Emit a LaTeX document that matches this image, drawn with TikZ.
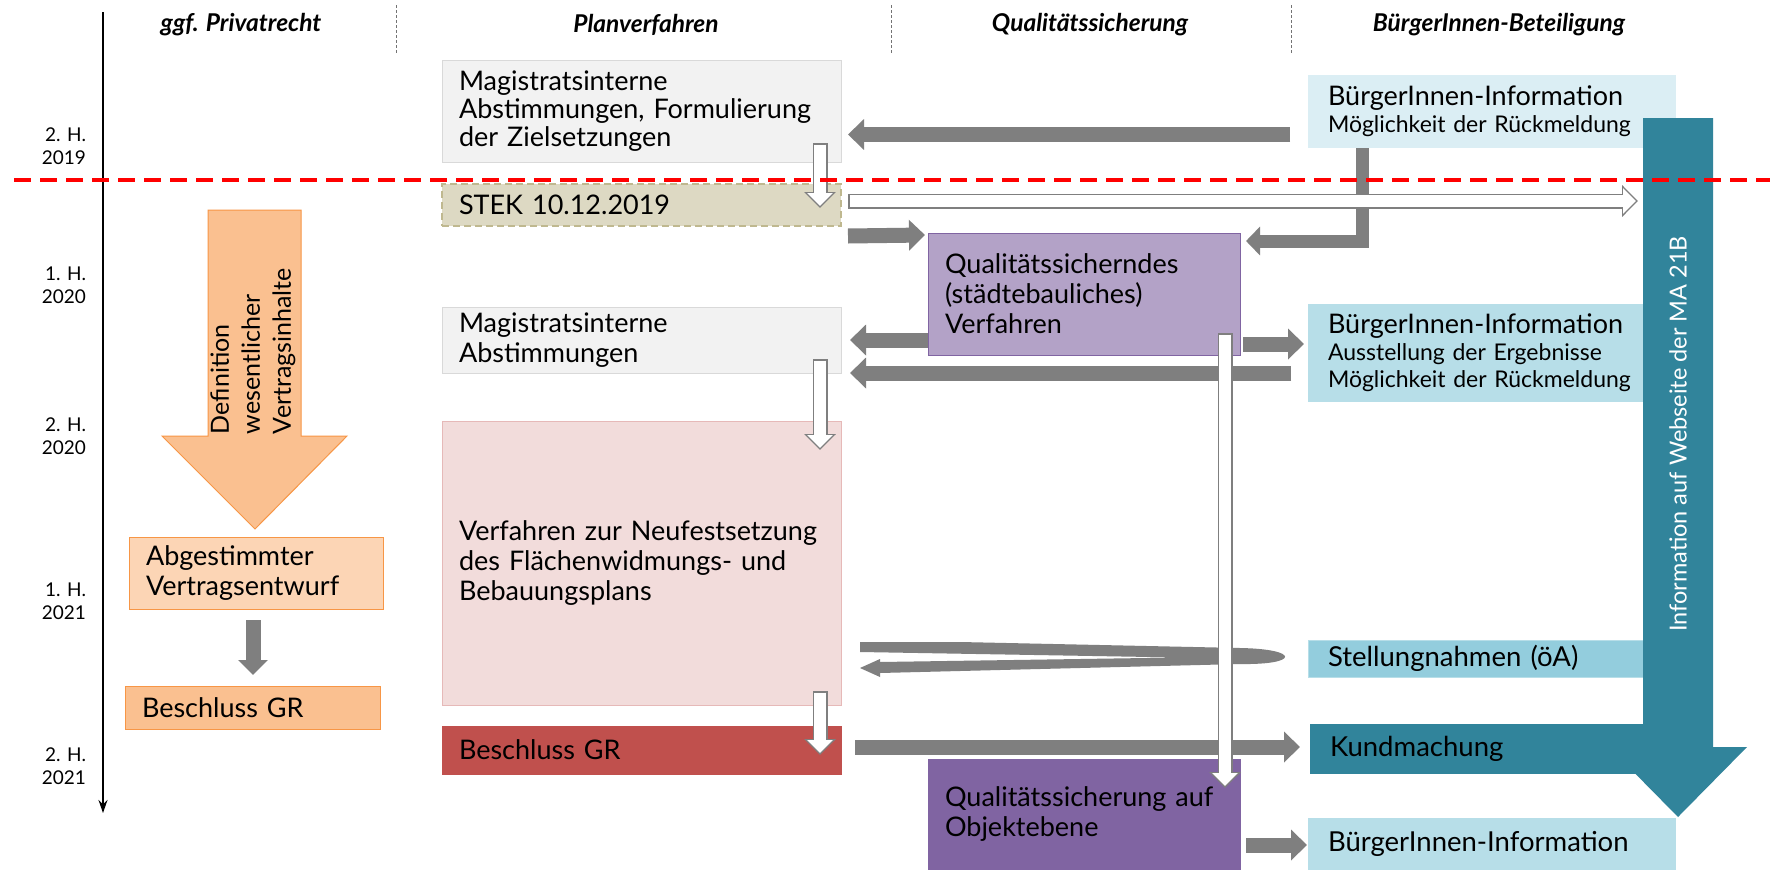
\documentclass[tikz,border=0pt]{standalone}
\usepackage{fontspec}
\setmainfont{Lato}
\usetikzlibrary{arrows.meta,calc}
\hyphenpenalty=10000
\exhyphenpenalty=10000

\definecolor{flowgray}{HTML}{7F7F7F}
\definecolor{boxgray}{HTML}{F2F2F2}
\definecolor{boxline}{HTML}{D9D9D9}
\definecolor{stekfill}{HTML}{DDD9C3}
\definecolor{stekline}{HTML}{BFB88F}
\definecolor{pinkfill}{HTML}{F2DCDB}
\definecolor{pinkline}{HTML}{E6B9B8}
\definecolor{redfill}{HTML}{C0504D}
\definecolor{orfill}{HTML}{FAC090}
\definecolor{orlight}{HTML}{FCD5B5}
\definecolor{orline}{HTML}{F79646}
\definecolor{qslight}{HTML}{B3A2C7}
\definecolor{qsdark}{HTML}{8064A2}
\definecolor{bilight}{HTML}{DBEEF4}
\definecolor{bimid}{HTML}{B7DEE8}
\definecolor{bidark}{HTML}{93CDDD}
\definecolor{webteal}{HTML}{31849B}

\begin{document}
\begin{tikzpicture}[x=1pt,y=-1pt,
    every node/.style={inner sep=0pt,outer sep=0pt},
    colhead/.style={font=\fontsize{24.5}{28}\selectfont\bfseries\itshape},
    half/.style={anchor=east,align=right,font=\fontsize{19}{23}\selectfont},
    colsep/.style={draw=black!55,densely dashed,line width=0.6pt},
    box/.style={anchor=north west,align=left,inner xsep=17pt,line width=1pt,
      font=\fontsize{27}{30}\selectfont},
    pv/.style={box,minimum width=399pt,text width=365pt},
    qs/.style={box,minimum width=312pt,text width=278pt},
    bi/.style 2 args={box,inner xsep=20pt,minimum width=#1,text width=#2,
      font=\fontsize{23}{27}\selectfont},
    big/.style={font=\fontsize{27.5}{30}\selectfont},
    flow/.style={draw=flowgray,line width=15pt,-{Triangle[width=30pt,length=16pt]}},
    hollow/.style={draw=flowgray,line width=15pt,-{Triangle[width=31pt,length=16pt]},
      postaction={draw=white,line width=12pt,-{Triangle[width=25pt,length=13pt]},
        shorten >=2pt,shorten <=1.5pt}},
    cut/.style={draw=red,line width=4pt,dash pattern=on 17pt off 9pt},
  ]
  \useasboundingbox[fill=white] (0,0) rectangle (1770,870);

  % time axis and column heads
  \coordinate (tlTop) at (103,12);
  \coordinate (tlEnd) at (103,813);
  \draw[line width=1.2pt,-{Stealth[length=13pt,width=9pt]}] (tlTop) -- (tlEnd);

  \node[colhead] (hPr) at (241,25) {ggf. Privatrecht};
  \node[colhead] (hPv) at (646,25) {Planverfahren};
  \node[colhead] (hQs) at (1090,25) {Qualitätssicherung};
  \node[colhead] (hBi) at (1499,25) {BürgerInnen-Beteiligung};
  \foreach \x in {396,891,1291}
    \draw[colsep] (\x,5) -- (\x,53);

  \node[half] (h19b) at (86,146) {2. H.\\2019};
  \node[half] (h20a) at (86,285) {1. H.\\2020};
  \node[half] (h20b) at (86,436) {2. H.\\2020};
  \node[half] (h21a) at (86,601) {1. H.\\2021};
  \node[half] (h21b) at (86,766) {2. H.\\2021};

  % Privatrecht
  \filldraw[fill=orfill,draw=orline,line width=1pt]
    (208,210) -- (301,210) -- (301,436) -- (347,436) -- (255,529)
    -- (162,436) -- (208,436) -- cycle;
  \node[rotate=90,anchor=west,align=left,font=\fontsize{25}{31}\selectfont]
    (defTxt) at (253,434) {Definition\\wesentlicher\\Vertragsinhalte};
  \node[box,minimum width=254pt,text width=220pt,minimum height=72pt,
    fill=orlight,draw=orline] (abg) at (129,537) {Abgestimmter\\Vertragsentwurf};
  \node[box,minimum width=255pt,text width=221pt,minimum height=43pt,
    fill=orfill,draw=orline] (grPr) at (125,686) {Beschluss GR};

  % Planverfahren
  \node[pv,fill=boxgray,draw=boxline,minimum height=102pt,
    font=\fontsize{27}{28}\selectfont] (pv1) at (442,60)
    {Magistratsinterne\\Abstimmungen, Formulierung\\der Zielsetzungen};
  \node[pv,fill=stekfill,draw=stekline,line width=2pt,dash pattern=on 7pt off 4pt,
    minimum height=42pt] (stek) at (442,184) {STEK 10.12.2019};
  \node[pv,fill=boxgray,draw=boxline,minimum height=66pt] (pv2) at (442,307)
    {Magistratsinterne\\Abstimmungen};
  \node[pv,fill=pinkfill,draw=pinkline,minimum height=284pt] (fwp) at (442,421)
    {Verfahren zur Neufestsetzung\\des Flächenwidmungs- und\\Bebauungsplans};
  \node[pv,fill=redfill,draw=redfill,minimum height=48pt] (grPv) at (442,726)
    {Beschluss GR};

  % Qualitaetssicherung
  \node[qs,fill=qslight,draw=qsdark,minimum height=122pt] (qsA) at (928,233)
    {Qualitätssicherndes\\(städtebauliches)\\Verfahren};
  \node[qs,fill=qsdark,draw=qsdark,minimum height=111pt] (qsB) at (928,759)
    {Qualitätssicherung auf\\Objektebene};

  % BuergerInnen-Beteiligung
  \node[bi={368pt}{328pt},fill=bilight,minimum height=73pt] (biA) at (1308,75)
    {{\fontsize{27}{30}\selectfont BürgerInnen-Information}\\Möglichkeit der Rückmeldung};
  \node[bi={360pt}{320pt},fill=bimid,minimum height=98pt] (biB) at (1308,304)
    {{\fontsize{27}{30}\selectfont BürgerInnen-Information}\\Ausstellung der Ergebnisse\\Möglichkeit der Rückmeldung};
  \node[bi={360pt}{320pt},big,fill=bidark,draw=bimid,minimum height=37pt] (stn)
    at (1308,640) {Stellungnahmen (öA)};
  \node[bi={350pt}{310pt},big,fill=webteal,minimum height=50pt] (kund)
    at (1310,724) {Kundmachung};
  \node[bi={368pt}{328pt},big,fill=bimid,minimum height=52pt] (biC)
    at (1308,818) {BürgerInnen-Information};

  % Webseite MA 21B
  \coordinate (webL) at (1643,118);
  \fill[webteal] (webL) -- ++(70,0) -- ++(0,629) -- ++(34,0) -- ++(-69,70)
    -- ++(-69,-70) -- ++(34,0) -- cycle;
  \node[rotate=90,text=white,font=\fontsize{23.5}{27}\selectfont] (webTxt)
    at (1678,434) {Information auf Webseite der MA 21B};

  % grey flows
  \draw[flow] ([shift={(-18,23)}]biA.west) -- ([shift={(7,23.5)}]pv1.east);
  \draw[flow,line width=13pt,-{Triangle[width=28pt,length=14pt]}]
    ([shift={(54,0)}]biA.south west) |- ([shift={(6,8)}]qsA.north east);
  \draw[flow] ([shift={(7,10)}]stek.south east) -- ([shift={(-3,2)}]qsA.north west);
  \draw[flow] (qsA.west |- pv2.east) -- ([xshift=9pt]pv2.east);
  \draw[flow] ([xshift=-17pt]biB.west |- pv2.south east) -- ([xshift=9pt]pv2.south east);
  \coordinate (qsOut) at ([shift={(3,50)}]qsA.east);
  \draw[flow] (qsOut) -- ([xshift=-4pt]biB.west |- qsOut);
  \draw[flow] ([shift={(14,-3)}]grPv.east) -- ([shift={(-10,-2)}]kund.west);
  \draw[flow] ([shift={(6,30.5)}]qsB.east) -- ([shift={(-1,1)}]biC.west);
  \draw[flow,-{Triangle[width=29pt,length=15pt]}]
    ([shift={(-3,11)}]abg.south) -- ([shift={(0.5,-11)}]grPr.north);

  % Stellungnahmen loop
  \coordinate (loopL) at ([shift={(19,84)}]fwp.east);
  \begin{scope}[shift={(loopL)}]
    \fill[flowgray] (0,-5) -- (100,-5) -- (380,1) .. controls (440,2) and (440,18)
      .. (380,17) -- (20,26) -- (20,30) -- (0,21) -- (20,12) -- (20,15)
      -- (320,10.5) -- (0,5) -- cycle;
  \end{scope}

  % white flows
  \draw[hollow] ([shift={(-21,-19)}]pv1.south east) -- ([shift={(-21,-18)}]stek.south east);
  \draw[hollow] ([shift={(7,-4)}]stek.east) -- ([shift={(-5,83)}]webL);
  \draw[hollow] ([shift={(-21,-14)}]pv2.south east) -- ([shift={(-21,29)}]fwp.north east);
  \draw[hollow] ([shift={(-21,-14)}]fwp.south east) -- ([shift={(-21,29)}]grPv.north east);
  \draw[hollow] ([shift={(-15,-22)}]qsA.south east) -- ([shift={(-15,29)}]qsB.north east);

  % STEK cut
  \coordinate (cutL) at (14,180);
  \coordinate (cutR) at (1770,180);
  \draw[cut] (cutL) -- (cutR);
\end{tikzpicture}
\end{document}
